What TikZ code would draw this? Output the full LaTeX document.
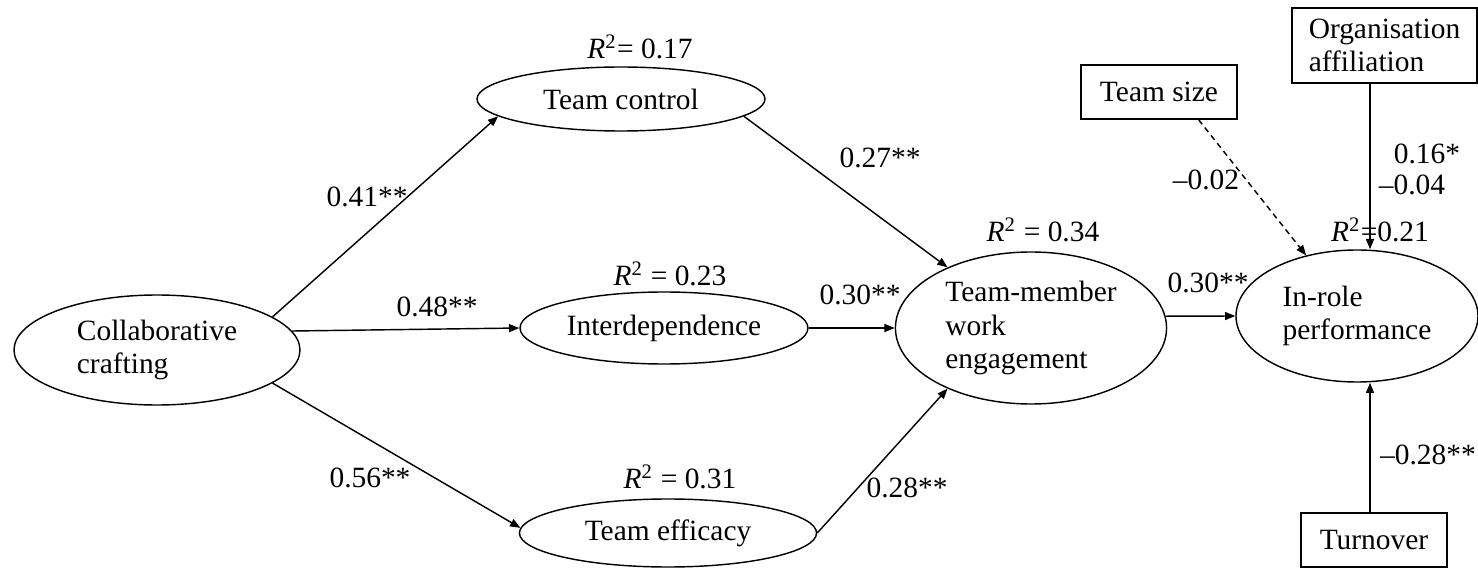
\documentclass[tikz,border=0pt]{standalone}
\usepackage{fontspec}
\setmainfont{Liberation Serif}
\usetikzlibrary{shapes.geometric,arrows.meta,calc}

\newcommand{\rsq}{{\itshape R}\textsuperscript{2}}

\begin{document}
\begin{tikzpicture}[x=0.35pt, y=-0.35pt,
    font=\fontsize{10.3}{11.7}\selectfont,
    var/.style={draw, ellipse, line width=0.5pt, inner sep=0pt, align=left},
    ctrl/.style={draw, rectangle, line width=0.5pt, inner sep=0pt, align=left},
    link/.style={line width=0.5pt, -{Triangle[length=3.6pt,width=2.8pt]}},
    coef/.style={inner sep=0pt}]
    \useasboundingbox (0,0) rectangle (1478,568);

    % latent variables
    \node[var, minimum width=100.1pt, minimum height=38.5pt] (cc) at (157,350) {Collaborative\\crafting};
    \node[var, minimum width=100.8pt, minimum height=22.4pt] (tc) at (621,99) {Team control};
    \node[var, minimum width=100.8pt, minimum height=25.2pt] (inter) at (664,328) {Interdependence};
    \node[var, minimum width=104pt, minimum height=23.8pt] (te) at (668,533) {Team efficacy};
    \node[var, minimum width=94.9pt, minimum height=53.2pt] (tmwe) at (1031,328) {Team-member\\work\\engagement};
    \node[var, minimum width=84.7pt, minimum height=46.2pt] (irp) at (1357,316) {In-role\\performance};

    % controls
    \node[ctrl, minimum width=54.6pt, minimum height=18.9pt] (tsize) at (1159,92) {Team size};
    \node[ctrl, minimum width=64.8pt, minimum height=26.3pt] (org) at (1384.5,45.5) {Organisation\\affiliation};
    \node[ctrl, minimum width=51.1pt, minimum height=18.9pt] (turn) at (1374,540) {Turnover};

    % paths
    \draw[link] (cc.16) -- (tc.188);
    \draw[link] (cc.8) -- (inter.west);
    \draw[link] (cc.-16) -- (te.178);
    \draw[link] (tc.-8) -- (tmwe.144);
    \draw[link] (inter.east) -- (tmwe.west);
    \draw[link] (te.east) -- (tmwe.216);
    \draw[link] (tmwe.5) -- (irp.west);
    \draw[link, dash pattern=on 2pt off 1.5pt] (tsize.-35) -- (irp.130);
    \draw[link] ($(org.south)+(-14.5,0)$) -- ($(irp.north)+(13,0)$);
    \draw[link] ($(turn.north)+(-4,0)$) -- ($(irp.south)+(13,0)$);

    % R squared
    \node[coef] (r1) at (640,47) {\rsq= 0.17};
    \node[coef] (r2) at (670,274) {\rsq\ = 0.23};
    \node[coef] (r3) at (680,477) {\rsq\ = 0.31};
    \node[coef] (r4) at (1043,230) {\rsq\ = 0.34};
    \node[coef] (r5) at (1380,230) {\rsq=0.21};

    % coefficients
    \node[coef] (b1) at (367,197) {0.41**};
    \node[coef] (b2) at (437,307) {0.48**};
    \node[coef] (b3) at (370,478) {0.56**};
    \node[coef] (b4) at (880,158) {0.27**};
    \node[coef] (b5) at (860,295) {0.30**};
    \node[coef] (b6) at (907,488) {0.28**};
    \node[coef] (b7) at (1208,283) {0.30**};
    \node[coef] (b8) at (1206,180) {–0.02};
    \node[coef] (b9) at (1427,154) {0.16*};
    \node[coef] (b10) at (1412,185) {–0.04};
    \node[coef] (b11) at (1428,455) {–0.28**};
\end{tikzpicture}
\end{document}
